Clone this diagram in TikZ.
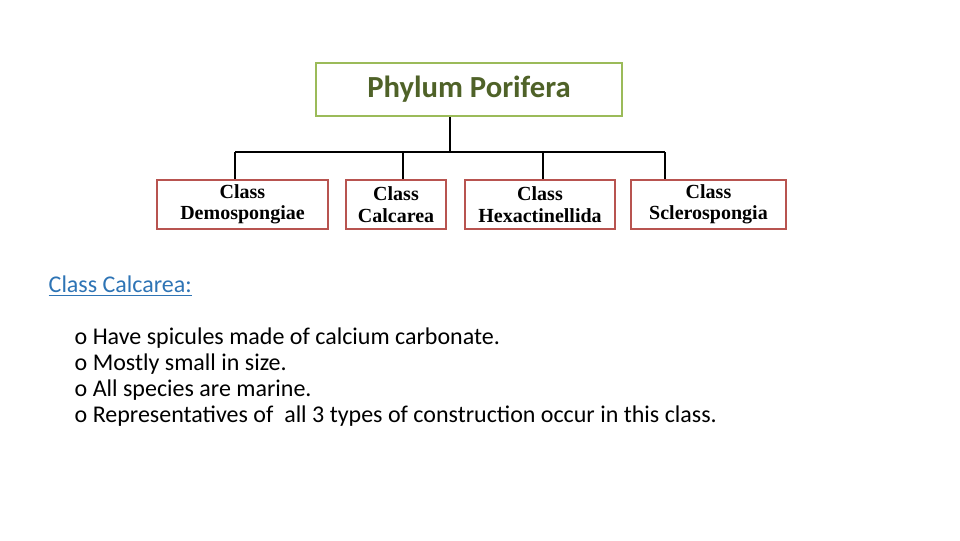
\documentclass[tikz,border=0pt]{standalone}
\usepackage{fontspec}
\setmainfont{Carlito}
\newfontfamily\boxfont{Liberation Serif}
\usetikzlibrary{positioning}
\definecolor{phylumgreen}{HTML}{9BBB59}
\definecolor{phylumtext}{HTML}{4F6228}
\definecolor{classred}{HTML}{B85450}
\definecolor{headblue}{HTML}{2E74B5}
\tikzset{
  phylum/.style={rectangle,draw=phylumgreen,line width=1.6pt,minimum width=229.5pt,minimum height=39.75pt,font=\fontsize{23}{26}\selectfont\bfseries,text=phylumtext},
  class/.style={rectangle,draw=classred,line width=1.2pt,minimum height=36.75pt,inner sep=1pt,align=center,font=\boxfont\fontsize{15}{16}\selectfont\bfseries},
  tree/.style={line width=1.4pt,black},
  bullet/.style={anchor=west,font=\fontsize{18}{21}\selectfont}
}
\begin{document}
\begin{tikzpicture}[x=0.75pt,y=-0.75pt]
	\useasboundingbox (0,0) rectangle (960,540);
	\node[phylum] (P) at (469,89.5) {Phylum Porifera};
	\node[class,minimum width=128.25pt] (D) at (242.5,204.5) {Class\\Demospongiae};
	\node[class,minimum width=75pt] (C) at (396,204.5) {Class\\Calcarea};
	\node[class,minimum width=112.5pt] (H) at (540,204.5) {Class\\Hexactinellida};
	\node[class,minimum width=116.25pt] (S) at (708.5,204.5) {Class\\Sclerospongia};

	\coordinate (J) at (450,152);
	\coordinate (JD) at (235,152);
	\coordinate (JC) at (403,152);
	\coordinate (JH) at (543,152);
	\coordinate (JS) at (665,152);

	\draw[tree] (P.south -| J) -- (J);
	\draw[tree] (JD) -- (JS);
	\draw[tree] (JD) -- (JD |- D.north);
	\draw[tree] (JC) -- (JC |- C.north);
	\draw[tree] (JH) -- (JH |- H.north);
	\draw[tree] (JS) -- (JS |- S.north);

	\node[bullet,text=headblue] (T) at (44,286) {\underline{Class Calcarea:}};
	\node[bullet] (L1) at (70,338) {o Have spicules made of calcium carbonate.};
	\node[bullet] (L2) at (70,364) {o Mostly small in size.};
	\node[bullet] (L3) at (70,390) {o All species are marine.};
	\node[bullet] (L4) at (70,416) {o Representatives of\ \ all 3 types of construction occur in this class.};
\end{tikzpicture}
\end{document}
